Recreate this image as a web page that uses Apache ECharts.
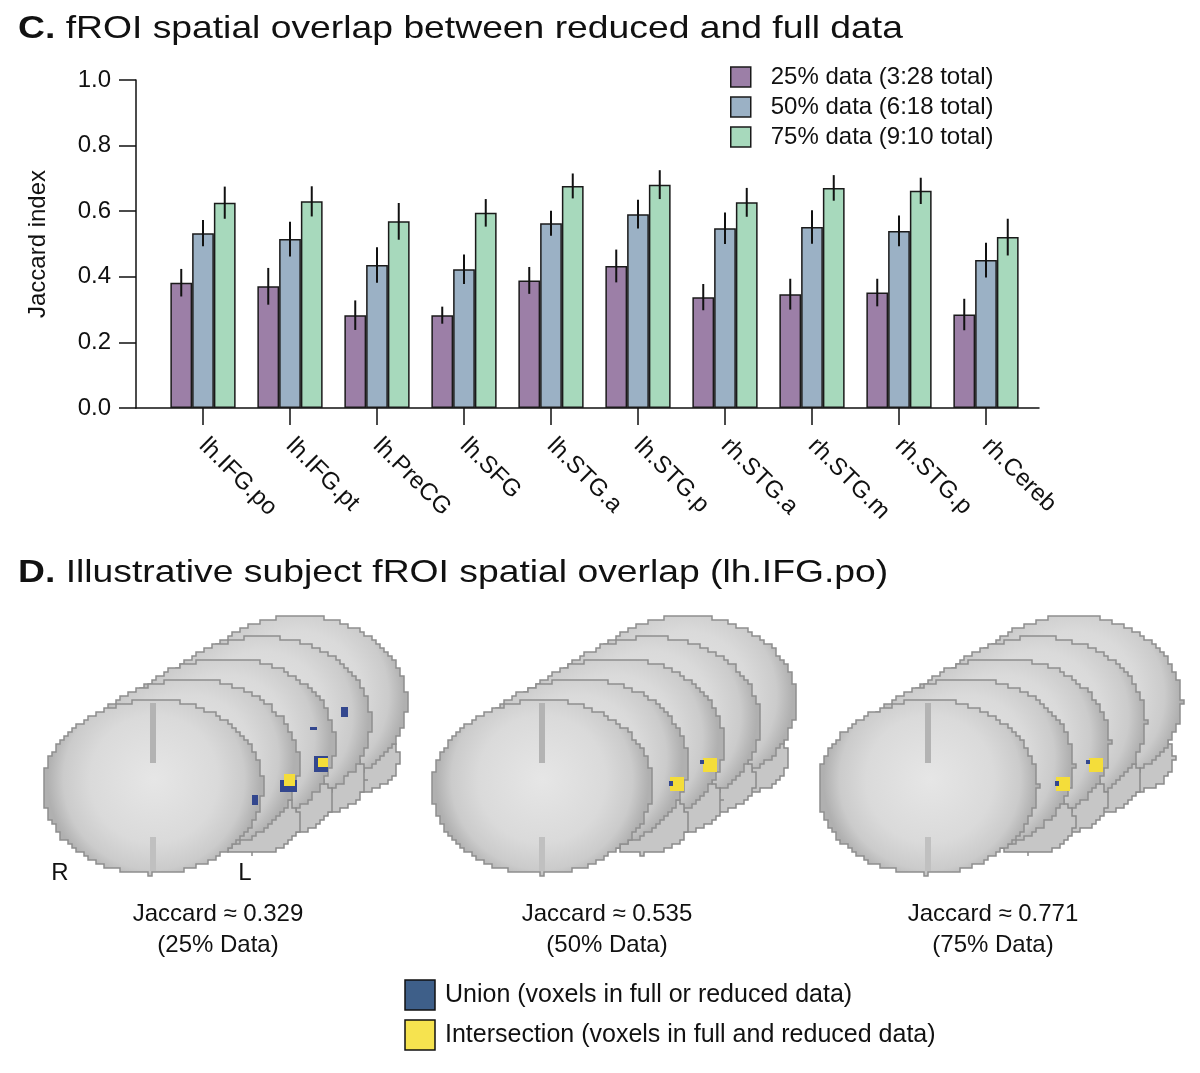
<!DOCTYPE html>
<html>
<head>
<meta charset="utf-8">
<script src="https://cdn.jsdelivr.net/npm/echarts@6/dist/echarts.min.js"></script>
<style>
html, body { margin: 0; padding: 0; background: #fff; }
#container { width: 1200px; height: 1073px; }
</style>
</head>
<body>
<div id="container"></div>
<script>
// panel C data
var regions = ['lh.IFG.po', 'lh.IFG.pt', 'lh.PreCG', 'lh.SFG', 'lh.STG.a', 'lh.STG.p', 'rh.STG.a', 'rh.STG.m', 'rh.STG.p', 'rh.Cereb'];
var seriesNames = ['25% data (3:28 total)', '50% data (6:18 total)', '75% data (9:10 total)'];
var mean25 = [0.382, 0.371, 0.283, 0.283, 0.389, 0.433, 0.338, 0.347, 0.352, 0.285];
var err25  = [0.042, 0.056, 0.045, 0.026, 0.041, 0.050, 0.040, 0.047, 0.042, 0.048];
var mean50 = [0.533, 0.515, 0.436, 0.423, 0.563, 0.591, 0.548, 0.552, 0.540, 0.451];
var err50  = [0.040, 0.053, 0.054, 0.045, 0.038, 0.044, 0.048, 0.051, 0.047, 0.053];
var mean75 = [0.626, 0.630, 0.569, 0.595, 0.677, 0.681, 0.627, 0.671, 0.662, 0.521];
var err75  = [0.049, 0.046, 0.056, 0.042, 0.038, 0.044, 0.044, 0.039, 0.040, 0.056];
var barColors = ['#9c7fa7', '#9bb1c5', '#a7d9bc'];

// panel D
var exampleJaccard = [0.329, 0.535, 0.771];
var exampleLabels = ['(25% Data)', '(50% Data)', '(75% Data)'];

var FONT = '"Liberation Sans", Arial, Helvetica, sans-serif';
var TXT = 24;

function errRenderer(k) {
	return function (params, api) {
		var xi = api.value(0);
		var hi = api.coord([xi, api.value(1)]);
		var lo = api.coord([xi, api.value(2)]);
		var band = api.size([1, 0])[0];
		var w = band * 0.75 / 3;
		var x = hi[0] + (k - 1) * w;
		return {
			type: 'line',
			shape: { x1: x, y1: hi[1], x2: x, y2: lo[1] },
			style: { stroke: '#111', lineWidth: 2 }
		};
	};
}

var means = [mean25, mean50, mean75];
var errs = [err25, err50, err75];
var series = [];
for (var k = 0; k < 3; k++) {
	series.push({
		name: seriesNames[k],
		type: 'bar',
		xAxisIndex: 1,
		yAxisIndex: 1,
		data: means[k],
		barGap: '0%',
		barCategoryGap: '25%',
		itemStyle: { color: barColors[k], borderColor: '#1a1a1a', borderWidth: 1.5 },
		silent: true
	});
}
for (var k = 0; k < 3; k++) {
	var d = [];
	for (var i = 0; i < regions.length; i++) {
		d.push([i, means[k][i] + errs[k][i], means[k][i] - errs[k][i]]);
	}
	series.push({
		type: 'custom',
		xAxisIndex: 1,
		yAxisIndex: 1,
		renderItem: errRenderer(k),
		data: d,
		z: 10,
		silent: true
	});
}

// pixelated outline of an ellipse, like a voxel slice edge
function stepEllipse(cx, cy, rx, ry) {
	var pts = [], px = null, py = null, q = 4;
	for (var t = 0; t <= 360; t += 2) {
		var a = t * Math.PI / 180;
		var x = Math.round((cx + rx * Math.cos(a)) / q) * q;
		var y = Math.round((cy + ry * Math.sin(a)) / q) * q;
		if (px !== null && x === px && y === py) continue;
		if (px !== null && x !== px && y !== py) pts.push([x, py]);
		pts.push([x, y]);
		px = x; py = y;
	}
	return pts;
}

function sliceFill() {
	return {
		type: 'radial', x: 0.5, y: 0.45, r: 0.6,
		colorStops: [
			{ offset: 0, color: '#e6e6e6' },
			{ offset: 0.6, color: '#dadada' },
			{ offset: 0.85, color: '#cbcbcb' },
			{ offset: 1, color: '#b0b0b0' }
		]
	};
}

// brain slice sketches for panel D (decorative)
function brainGroup(cx, cy, g) {
	var els = [];
	for (var j = 4; j >= 0; j--) {
		var sx = cx + 36 * j, sy = cy - 21 * j;
		if (j > 0) {
			els.push({
				type: 'polygon',
				shape: { points: stepEllipse(sx + 64, sy + 56, 50 - 3 * j, 32) },
				style: { fill: '#c6c6c6', stroke: '#8a8a8a', lineWidth: 1.5 }
			});
		}
		els.push({
			type: 'polygon',
			shape: { points: stepEllipse(sx, sy, 110, 87) },
			style: { fill: sliceFill(), stroke: '#8e8e8e', lineWidth: 1.5 }
		});
	}
	// midline of front slice
	els.push({ type: 'rect', shape: { x: cx - 3, y: cy - 84, width: 6, height: 60 }, style: { fill: '#b3b3b3' } });
	els.push({ type: 'rect', shape: { x: cx - 3, y: cy + 50, width: 6, height: 34 }, style: { fill: '#c0c0c0' } });
	// voxels
	var blue = '#33478e', yellow = '#f4dd3a';
	var vox = g === 0 ?
		[[127, -7, 17, 12, blue], [131, -13, 11, 12, yellow], [161, -31, 14, 16, blue], [165, -29, 10, 9, yellow],
		 [99, 8, 6, 10, blue], [157, -60, 7, 3, blue], [188, -80, 7, 10, blue]] :
		[[128, -10, 14, 14, yellow], [127, -6, 4, 5, blue], [161, -29, 14, 14, yellow], [158, -27, 4, 4, blue]];
	for (var v = 0; v < vox.length; v++) {
		els.push({ type: 'rect', shape: { x: cx + vox[v][0], y: cy + vox[v][1], width: vox[v][2], height: vox[v][3] }, style: { fill: vox[v][4] } });
	}
	els.push({
		type: 'text', x: cx + 65, y: cy + 127,
		style: { text: 'Jaccard \u2248 ' + exampleJaccard[g].toFixed(3), fill: '#111', font: TXT + 'px ' + FONT, textAlign: 'center', textVerticalAlign: 'middle' }
	});
	els.push({
		type: 'text', x: cx + 65, y: cy + 158,
		style: { text: exampleLabels[g], fill: '#111', font: TXT + 'px ' + FONT, textAlign: 'center', textVerticalAlign: 'middle' }
	});
	return els;
}

function panelTitle(letter, rest, y) {
	return {
		type: 'text', x: 18, y: y, scaleX: 1.165,
		style: {
			text: '{b|' + letter + '} ' + rest,
			textVerticalAlign: 'middle',
			rich: { b: { font: 'bold 32px ' + FONT, fill: '#111' } },
			font: '32px ' + FONT, fill: '#111'
		}
	};
}

var graphics = [];
var centers = [153, 542, 928];
for (var g = 0; g < 3; g++) {
	graphics = graphics.concat(brainGroup(centers[g], 787, g));
}
graphics.push({ type: 'text', x: 60, y: 873, style: { text: 'R', fill: '#111', font: TXT + 'px ' + FONT, textAlign: 'center', textVerticalAlign: 'middle' } });
graphics.push({ type: 'text', x: 245, y: 873, style: { text: 'L', fill: '#111', font: TXT + 'px ' + FONT, textAlign: 'center', textVerticalAlign: 'middle' } });
graphics.push(panelTitle('C.', 'fROI spatial overlap between reduced and full data', 29));
graphics.push(panelTitle('D.', 'Illustrative subject fROI spatial overlap (lh.IFG.po)', 573));
// union / intersection legend
graphics.push({ type: 'rect', shape: { x: 405, y: 980, width: 30, height: 30 }, style: { fill: '#3e5f89', stroke: '#111', lineWidth: 1.5 } });
graphics.push({ type: 'rect', shape: { x: 405, y: 1020, width: 30, height: 30 }, style: { fill: '#f6e34f', stroke: '#111', lineWidth: 1.5 } });
graphics.push({ type: 'text', x: 445, y: 995, style: { text: 'Union (voxels in full or reduced data)', fill: '#111', font: '25px ' + FONT, textVerticalAlign: 'middle' } });
graphics.push({ type: 'text', x: 445, y: 1035, style: { text: 'Intersection (voxels in full and reduced data)', fill: '#111', font: '25px ' + FONT, textVerticalAlign: 'middle' } });

var myChart = echarts.init(document.getElementById('container'));
var option = {
	backgroundColor: '#fff',
	animation: false,
	textStyle: { fontFamily: FONT },
	legend: {
		data: seriesNames,
		orient: 'vertical',
		left: 730,
		top: 65,
		padding: 0,
		icon: 'rect',
		itemWidth: 20,
		itemHeight: 20,
		itemGap: 6,
		itemStyle: { borderColor: '#1a1a1a', borderWidth: 1.5 },
		textStyle: { fontSize: TXT, color: '#111', fontFamily: FONT, padding: [0, 0, 0, 15] },
		selectedMode: false
	},
	grid: [
		{ left: 136, top: 80, width: 903, height: 328 },
		{ left: 159.5, top: 80, width: 870, height: 328 }
	],
	xAxis: [
		{
			gridIndex: 0, type: 'value', min: 0, max: 1,
			axisLine: { show: true, lineStyle: { color: '#111', width: 1.5 } },
			axisTick: { show: false }, axisLabel: { show: false }, splitLine: { show: false }
		},
		{
			gridIndex: 1, type: 'category', data: regions,
			axisLine: { show: false },
			axisTick: { show: true, alignWithLabel: true, length: 17, lineStyle: { color: '#111', width: 1.5 } },
			axisLabel: { rotate: -45, fontSize: TXT, color: '#111', margin: 34, fontFamily: FONT, interval: 0 },
			splitLine: { show: false }
		}
	],
	yAxis: [
		{
			gridIndex: 0, type: 'value', min: 0, max: 1, interval: 0.2,
			name: 'Jaccard index', nameLocation: 'middle', nameGap: 86, nameRotate: 90,
			nameTextStyle: { fontSize: TXT, color: '#111', fontFamily: FONT },
			axisLine: { show: true, lineStyle: { color: '#111', width: 1.5 } },
			axisTick: { show: true, length: 17, lineStyle: { color: '#111', width: 1.5 } },
			axisLabel: { fontSize: TXT, color: '#111', margin: 25, fontFamily: FONT, formatter: function (v) { return v.toFixed(1); } },
			splitLine: { show: false }
		},
		{ gridIndex: 1, type: 'value', min: 0, max: 1, show: false }
	],
	series: series,
	graphic: graphics
};
myChart.setOption(option);
</script>
</body>
</html>
